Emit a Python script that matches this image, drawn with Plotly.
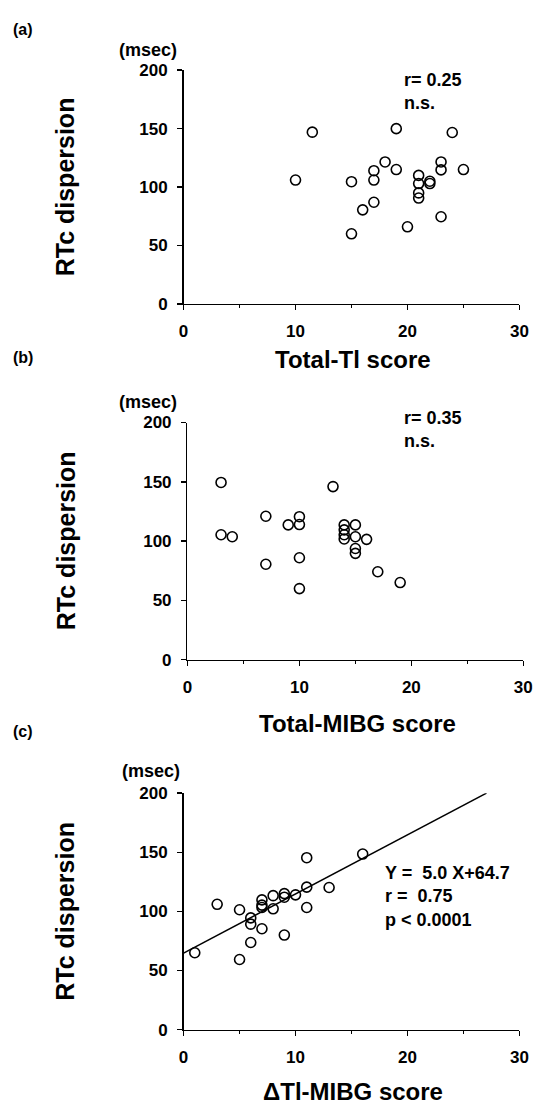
import plotly.graph_objects as go

W, H = 544, 1117

# ---------------- data ----------------
tl_score = [10, 11.5, 15, 15, 16, 17, 17, 17, 18, 19, 19, 20, 21, 21, 21, 21, 22, 22, 23, 23, 23, 24, 25]
tl_rtc = [106, 147, 104.6, 60, 80.5, 114, 106, 87, 121.5, 150, 115, 66, 110, 103, 95, 90.6, 105, 103, 121.5, 114.7, 74.6, 146.7, 115]

mibg_score = [3, 3, 4, 7, 7, 9, 10, 10, 10, 10, 13, 14, 14, 14, 14, 15, 15, 15, 15, 16, 17, 19]
mibg_rtc = [149.5, 105.4, 103.7, 121, 80.5, 113.7, 120.6, 114, 86, 60, 146, 113.7, 109.5, 105.4, 101.8, 113.7, 103.7, 93.8, 89.7, 101.5, 74.2, 65.1]

delta_score = [1, 3, 5, 5, 6, 6, 6, 7, 7, 7, 7, 8, 8, 9, 9, 9, 10, 11, 11, 11, 13, 16]
delta_rtc = [65, 106, 101.4, 59.3, 94.5, 89.2, 73.7, 109.7, 105.3, 103.3, 85.3, 113.3, 102.2, 115, 112, 80, 114, 145.4, 120.5, 103.3, 120.2, 148.5]

fit_slope = 5.0
fit_intercept = 64.7
fit_x = [0, 27.06]
fit_y = [fit_slope * v + fit_intercept for v in fit_x]

x_ticks = [0, 10, 20, 30]
y_ticks = [0, 50, 100, 150, 200]

panel_labels = ["(a)", "(b)", "(c)"]
x_titles = ["Total-Tl score", "Total-MIBG score", "ΔTl-MIBG score"]
y_title = "RTc dispersion"
y_unit = "(msec)"
stats_a = "r= 0.25<br>n.s."
stats_b = "r= 0.35<br>n.s."
stats_c = "Y =  5.0 X+64.7<br>r =  0.75<br>p < 0.0001"

# ---------------- layout helpers ----------------
FONT = "Liberation Sans, Arial, Helvetica, sans-serif"


def px_x(p):
    return p / W


def px_y(p):
    return 1 - p / H


# pixel boxes: (left, right, top(200), bottom(0))
boxes = [
    (183.3, 528.0, 62.3, 300.0),
    (187.3, 532.0, 420.7, 662.0),
    (183.3, 528.0, 797.7, 1038.3),
]

fig = go.Figure()

marker = dict(symbol="circle-open", size=10, color="black", line=dict(width=1.6, color="black"))
for i, (xs, ys) in enumerate([(tl_score, tl_rtc), (mibg_score, mibg_rtc), (delta_score, delta_rtc)]):
    sfx = "" if i == 0 else str(i + 1)
    fig.add_trace(go.Scatter(x=xs, y=ys, mode="markers", marker=marker,
                             xaxis="x" + sfx, yaxis="y" + sfx, showlegend=False,
                             cliponaxis=False))

fig.add_trace(go.Scatter(x=fit_x, y=fit_y, mode="lines", line=dict(color="black", width=1.5),
                         xaxis="x3", yaxis="y3", showlegend=False))

tickfont = dict(family=FONT, size=17, color="black", weight="bold")
layout = dict(width=W, height=H, margin=dict(l=0, r=0, t=0, b=0),
              paper_bgcolor="white", plot_bgcolor="white", showlegend=False)

for i, (l, r, t, b) in enumerate(boxes):
    sfx = "" if i == 0 else str(i + 1)
    layout["xaxis" + sfx] = dict(
        domain=[px_x(l), px_x(r)], range=[0, 30], anchor="y" + sfx,
        showline=True, linecolor="black", linewidth=1.5, showgrid=False, zeroline=False,
        tickmode="array", tickvals=x_ticks, ticktext=[str(v) for v in x_ticks],
        ticks="outside", ticklen=5, tickwidth=1.5, tickcolor="black",
        minor=dict(ticks="outside", ticklen=3, tickwidth=1.2, tickcolor="black", dtick=5, tick0=0, showgrid=False),
        tickfont=tickfont, ticklabelstandoff=6,
    )
    layout["yaxis" + sfx] = dict(
        domain=[px_y(b), px_y(t)], range=[0, 200], anchor="x" + sfx,
        showline=True, linecolor="black", linewidth=1.5, showgrid=False, zeroline=False,
        tickmode="array", tickvals=y_ticks, ticktext=[str(v) for v in y_ticks],
        ticks="outside", ticklen=5, tickwidth=1.5, tickcolor="black",
        tickfont=tickfont, ticklabelstandoff=6,
    )

annotations = []


def ann(text, x, y, size, xanchor="center", yanchor="middle", align="left", textangle=0):
    annotations.append(dict(text=text, x=px_x(x), y=px_y(y), xref="paper", yref="paper",
                            showarrow=False, xanchor=xanchor, yanchor=yanchor, align=align,
                            textangle=textangle,
                            font=dict(family=FONT, size=size, color="black", weight="bold")))


label_y = [21, 355, 735]
unit_y = [42, 400, 775]
title_y = [357, 727, 1101]
ytitle_y = [181, 541, 918]
for i, (l, r, t, b) in enumerate(boxes):
    ann(panel_labels[i], 6, label_y[i], 16, xanchor="left")
    ann(y_unit, 147 + (3 if i == 2 else 0), unit_y[i], 18)
    ann(x_titles[i], (l + r) / 2 + 2, title_y[i], 24)
    ann(y_title, 62, ytitle_y[i], 25, textangle=-90)

ann(stats_a, 407, 84, 18, xanchor="left")
ann(stats_b, 407, 428, 18, xanchor="left")
ann(stats_c, 388, 903, 18, xanchor="left")

layout["annotations"] = annotations
layout["hovermode"] = False
fig.update_layout(**layout)
fig.write_html(
    "out.html",
    config={"displayModeBar": False, "staticPlot": True},
    post_script="document.body.style.margin='0';document.body.style.overflow='hidden';"
                "document.documentElement.style.overflow='hidden';",
)
